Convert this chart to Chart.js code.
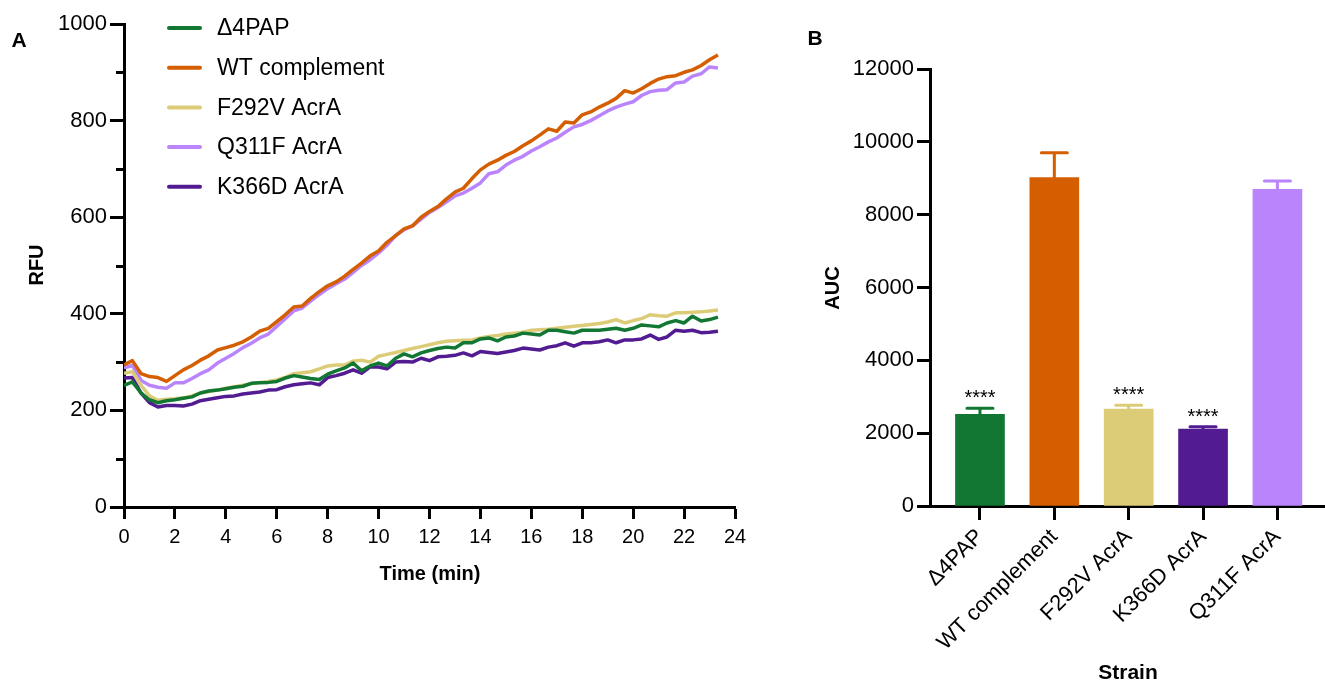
<!DOCTYPE html>
<html>
<head>
<meta charset="utf-8">
<script src="https://cdn.jsdelivr.net/npm/chart.js@4"></script>
<style>
  html, body { margin: 0; padding: 0; background: #fff; }
  #wrap { position: relative; width: 1325px; height: 685px; overflow: hidden; }
  #left { position: absolute; left: 0; top: 0; }
  #right { position: absolute; left: 760px; top: 0; }
</style>
</head>
<body>
<div id="wrap">
  <canvas id="left" width="760" height="685"></canvas>
  <canvas id="right" width="565" height="685"></canvas>
</div>
<script>
const FONT = '"Liberation Sans", Arial, Helvetica, sans-serif';

// Panel A: fluorescence over time (one reading every ~20 s)
const times = [
  0, 0.33, 0.67, 1, 1.33, 1.67, 2, 2.33, 2.67, 3, 3.33, 3.67, 4, 4.33, 4.67,
  5, 5.33, 5.67, 6, 6.33, 6.67, 7, 7.33, 7.67, 8, 8.33, 8.67, 9, 9.33, 9.67,
  10, 10.33, 10.67, 11, 11.33, 11.67, 12, 12.33, 12.67, 13, 13.33, 13.67,
  14, 14.33, 14.67, 15, 15.33, 15.67, 16, 16.33, 16.67, 17, 17.33, 17.67,
  18, 18.33, 18.67, 19, 19.33, 19.67, 20, 20.33, 20.67, 21, 21.33, 21.67,
  22, 22.33, 22.67, 23, 23.33
];

const seriesNames = ['Δ4PAP', 'WT complement', 'F292V AcrA', 'Q311F AcrA', 'K366D AcrA'];
const seriesColors = ['#117733', '#D55E00', '#DDCC77', '#BA84FC', '#521B92'];

const rfuD4PAP = [
  252, 259, 236, 222, 216, 220, 222, 225, 228, 236, 240, 242, 245, 248, 250,
  256, 257, 258, 260, 267, 272, 269, 266, 264, 275, 282, 288, 298, 282, 292,
  298, 292, 308, 317, 311, 319, 324, 328, 331, 329, 340, 340, 348, 350, 344,
  352, 354, 360, 358, 356, 366, 366, 363, 360, 366, 366, 366, 368, 370, 366,
  370, 377, 375, 373, 381, 386, 381, 395, 385, 388, 393
];
const rfuWT = [
  294, 303, 276, 270, 268, 260, 272, 284, 293, 304, 313, 325, 330, 335, 342,
  352, 364, 370, 384, 398, 414, 416, 432, 446, 458, 466, 478, 492, 505, 520,
  530, 548, 562, 576, 582, 600, 612, 622, 638, 652, 660, 680, 698, 710, 718,
  728, 736, 748, 758, 770, 783, 778, 797, 795, 812, 818, 828, 836, 846, 862,
  857, 866, 877, 886, 891, 893, 900, 905, 914, 926, 936
];
const rfuF292V = [
  277, 280, 252, 230, 221, 223, 224, 226, 230, 236, 239, 242, 246, 249, 252,
  255, 258, 260, 263, 268, 276, 278, 280, 286, 292, 294, 294, 302, 304, 300,
  312, 316, 320, 324, 328, 332, 336, 340, 343, 344, 345, 346, 350, 353, 355,
  358, 360, 362, 366, 367, 368, 370, 372, 374, 376, 378, 380, 383, 388, 381,
  386, 390, 398, 396, 395, 402, 402, 403, 404, 406, 408
];
const rfuQ311F = [
  288, 293, 262, 252, 248, 246, 257, 257, 266, 276, 284, 298, 308, 318, 330,
  339, 350, 358, 374, 390, 406, 412, 426, 440, 452, 462, 472, 486, 500, 512,
  526, 542, 562, 574, 582, 596, 610, 620, 632, 644, 650, 660, 671, 690, 694,
  708, 718, 726, 737, 746, 756, 764, 776, 787, 792, 800, 810, 820, 828, 834,
  839, 852, 860, 863, 864, 878, 880, 892, 897, 911, 909
];
const rfuK366D = [
  267, 268, 236, 216, 207, 210, 210, 209, 213, 220, 223, 226, 229, 230, 234,
  236, 238, 242, 243, 249, 253, 255, 257, 253, 268, 272, 277, 284, 277, 290,
  290, 286, 300, 301, 300, 308, 303, 311, 312, 314, 319, 313, 322, 320, 318,
  321, 324, 329, 327, 325, 331, 334, 340, 333, 340, 340, 342, 346, 340, 346,
  346, 348, 356, 347, 352, 366, 364, 366, 361, 362, 364
];
const rfuSeries = [rfuD4PAP, rfuWT, rfuF292V, rfuQ311F, rfuK366D];

const rfuMinorTicks = [100, 300, 500, 700, 900];

// Panel B: area under curve
const strains = ['Δ4PAP', 'WT complement', 'F292V AcrA', 'K366D AcrA', 'Q311F AcrA'];
const aucMean = [2518, 9015, 2663, 2114, 8696];
const aucErr = [165, 685, 102, 63, 228];
const aucSig = ['****', '', '****', '****', ''];
const barColors = ['#117733', '#D55E00', '#DDCC77', '#521B92', '#BA84FC'];

// simple text plugin: draws fixed labels (titles, panel letters)
function textPlugin(id, items) {
  return {
    id,
    afterDraw(chart) {
      const ctx = chart.ctx;
      items.forEach(it => {
        ctx.save();
        ctx.font = it.font;
        ctx.fillStyle = '#000';
        ctx.textAlign = 'center';
        ctx.textBaseline = 'middle';
        ctx.translate(it.x, it.y);
        if (it.rot) ctx.rotate(it.rot);
        ctx.fillText(it.text, 0, 0);
        ctx.restore();
      });
    }
  };
}

const minorTicksPlugin = {
  id: 'minorTicks',
  afterDraw(chart) {
    const y = chart.scales.y;
    const ctx = chart.ctx;
    ctx.save();
    ctx.strokeStyle = '#000';
    ctx.lineWidth = 3;
    rfuMinorTicks.forEach(v => {
      const py = Math.round(y.getPixelForValue(v)) + 0.5;
      ctx.beginPath();
      ctx.moveTo(chart.chartArea.left - 8, py);
      ctx.lineTo(chart.chartArea.left, py);
      ctx.stroke();
    });
    ctx.restore();
  }
};

const lineLegendPlugin = {
  id: 'lineLegend',
  afterDraw(chart) {
    const ctx = chart.ctx;
    const a = chart.chartArea;
    ctx.save();
    ctx.font = '23px ' + FONT;
    ctx.textBaseline = 'middle';
    ctx.textAlign = 'left';
    seriesNames.forEach((name, i) => {
      const y = a.top + 4 + i * 39.7;
      ctx.strokeStyle = seriesColors[i];
      ctx.lineWidth = 4;
      ctx.lineCap = 'round';
      ctx.beginPath();
      ctx.moveTo(a.left + 45, y);
      ctx.lineTo(a.left + 76, y);
      ctx.stroke();
      ctx.fillStyle = '#000';
      ctx.fillText(name, a.left + 93, y + 1);
    });
    ctx.restore();
  }
};

const errorBarPlugin = {
  id: 'errorBars',
  afterDatasetsDraw(chart) {
    const xs = chart.scales.x, ys = chart.scales.y;
    const ctx = chart.ctx;
    ctx.save();
    aucMean.forEach((m, i) => {
      const px = xs.getPixelForValue(i + 1);
      const top = ys.getPixelForValue(m);
      const cap = ys.getPixelForValue(m + aucErr[i]);
      ctx.strokeStyle = barColors[i];
      ctx.lineWidth = 3;
      ctx.lineCap = 'round';
      ctx.beginPath();
      ctx.moveTo(px, top);
      ctx.lineTo(px, cap);
      ctx.moveTo(px - 13, cap);
      ctx.lineTo(px + 13, cap);
      ctx.stroke();
      if (aucSig[i]) {
        ctx.fillStyle = '#000';
        ctx.font = '20px ' + FONT;
        ctx.textAlign = 'center';
        ctx.textBaseline = 'alphabetic';
        ctx.fillText(aucSig[i], px, cap - 4);
      }
    });
    ctx.restore();
  }
};

const axisFont = size => ({ family: FONT, size: size });
const plainNum = v => String(v);

new Chart(document.getElementById('left'), {
  type: 'line',
  data: {
    datasets: seriesNames.map((name, i) => ({
      label: name,
      data: times.map((t, k) => ({ x: t, y: rfuSeries[i][k] })),
      borderColor: seriesColors[i],
      backgroundColor: seriesColors[i],
      borderWidth: 3.5,
      borderJoinStyle: 'round',
      pointRadius: 0,
      tension: 0
    }))
  },
  options: {
    responsive: false,
    animation: false,
    layout: { padding: { top: 24, right: 25, left: 0, bottom: 0 } },
    plugins: { legend: { display: false }, tooltip: { enabled: false } },
    scales: {
      x: {
        type: 'linear', min: 0, max: 24,
        ticks: { stepSize: 2, color: '#000', font: axisFont(20), padding: 6, maxRotation: 0, callback: plainNum },
        grid: { drawOnChartArea: false, tickLength: 12, tickWidth: 3, tickColor: '#000' },
        border: { width: 3, color: '#000' },
        afterFit: s => { s.height = 178; }
      },
      y: {
        min: 0, max: 1000,
        ticks: { stepSize: 200, color: '#000', font: axisFont(22), padding: 3, callback: plainNum },
        grid: { drawOnChartArea: false, tickLength: 14, tickWidth: 3, tickColor: '#000' },
        border: { width: 3, color: '#000' },
        afterFit: s => { s.width = 124; }
      }
    }
  },
  plugins: [
    minorTicksPlugin,
    lineLegendPlugin,
    textPlugin('leftTitles', [
      { text: 'A', x: 19, y: 41, font: 'bold 21px ' + FONT },
      { text: 'RFU', x: 37, y: 265, rot: -Math.PI / 2, font: 'bold 20px ' + FONT },
      { text: 'Time (min)', x: 430, y: 574, font: 'bold 20px ' + FONT }
    ])
  ]
});

new Chart(document.getElementById('right'), {
  type: 'bar',
  data: {
    datasets: [{
      data: strains.map((s, i) => ({ x: i + 1, y: aucMean[i] })),
      backgroundColor: barColors,
      borderWidth: 0,
      barThickness: 49
    }]
  },
  options: {
    responsive: false,
    animation: false,
    layout: { padding: { top: 69, right: 0, left: 0, bottom: 0 } },
    plugins: { legend: { display: false }, tooltip: { enabled: false } },
    scales: {
      x: {
        type: 'linear', min: 0.328, max: 5.64, offset: false,
        afterBuildTicks: axis => { axis.ticks = strains.map((s, i) => ({ value: i + 1 })); },
        ticks: {
          autoSkip: false, minRotation: 45, maxRotation: 45, color: '#000',
          font: axisFont(22), padding: 4,
          callback: v => strains[Math.round(v) - 1]
        },
        grid: { offset: false, drawOnChartArea: false, tickLength: 14, tickWidth: 3, tickColor: '#000' },
        border: { width: 3, color: '#000' },
        afterFit: s => { s.height = 179; }
      },
      y: {
        min: 0, max: 12000,
        ticks: { stepSize: 2000, color: '#000', font: axisFont(22), padding: 3, callback: plainNum },
        grid: { drawOnChartArea: false, tickLength: 13, tickWidth: 3, tickColor: '#000' },
        border: { width: 3, color: '#000' },
        afterFit: s => { s.width = 170; }
      }
    }
  },
  plugins: [
    errorBarPlugin,
    textPlugin('rightTitles', [
      { text: 'B', x: 55, y: 39, font: 'bold 21px ' + FONT },
      { text: 'AUC', x: 73, y: 288, rot: -Math.PI / 2, font: 'bold 20px ' + FONT },
      { text: 'Strain', x: 368, y: 673, font: 'bold 21px ' + FONT }
    ])
  ]
});
</script>
</body>
</html>
